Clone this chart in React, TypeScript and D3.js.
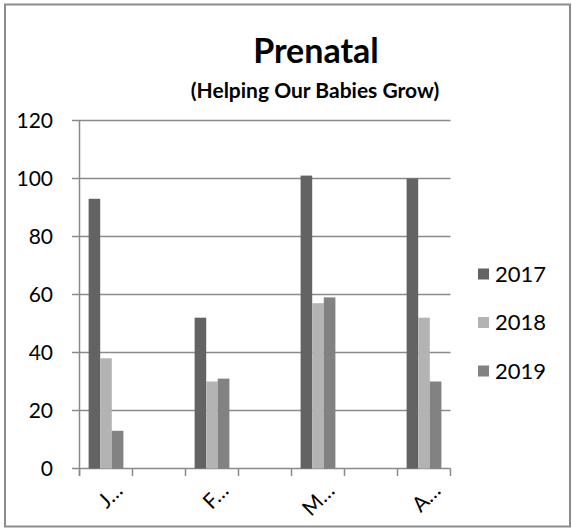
import React from "react";
import * as d3 from "d3";

const categories = ["J…", "", "F…", "", "M…", "", "A…"];
const seriesNames = ["2017", "2018", "2019"];
const values2017 = [93, null, 52, null, 101, null, 100];
const values2018 = [38, null, 30, null, 57, null, 52];
const values2019 = [13, null, 31, null, 59, null, 30];
const seriesColors = ["#636363", "#b3b3b3", "#828282"];
const yTicks = [0, 20, 40, 60, 80, 100, 120];
const titleText = "Prenatal";
const subtitleText = "(Helping Our Babies Grow)";

const W = 572;
const H = 529;
const FONT = "Lato, 'Open Sans', sans-serif";

export default function App() {
  const allSeries = [values2017, values2018, values2019];
  const x = d3.scaleBand<number>().domain(d3.range(categories.length)).range([79.5, 450.5]).padding(0);
  const y = d3.scaleLinear().domain([0, 120]).range([468.5, 120.5]);
  const bw = x.bandwidth();
  const barW = bw / (3 + 1.57);
  const groupW = barW * 3;
  const inner = d3.scaleBand<number>().domain([0, 1, 2]).range([(bw - groupW) / 2, (bw + groupW) / 2]).padding(0);
  const gridColor = "#8a8a8a";
  const boundaries = d3.range(categories.length + 1).map((i) => (i < categories.length ? (x(i) as number) : (x(i - 1) as number) + bw));

  return (
    <svg width={W} height={H} style={{ position: "absolute", left: 0, top: 0, background: "#fff" }}>
      <rect x={5} y={4.5} width={565} height={522} fill="#fff" stroke="#8c8c8c" strokeWidth={2} />
      <text x={316} y={63} textAnchor="middle" fontFamily={FONT} fontWeight={700} fontSize={34} fill="#000">
        {titleText}
      </text>
      <text x={315} y={98} textAnchor="middle" fontFamily={FONT} fontWeight={700} fontSize={21} fill="#000">
        {subtitleText}
      </text>
      {yTicks.map((t) => (
        <g key={t}>
          <line x1={72} x2={450.5} y1={y(t)} y2={y(t)} stroke={gridColor} strokeWidth={1.5} />
          <text x={53} y={y(t)} dy="0.35em" textAnchor="end" fontFamily={FONT} fontSize={21} fill="#000">
            {t}
          </text>
        </g>
      ))}
      <line x1={79.5} x2={79.5} y1={120.5} y2={476} stroke={gridColor} strokeWidth={1.5} />
      {boundaries.map((b, i) => (
        <line key={i} x1={b} x2={b} y1={468.5} y2={476} stroke={gridColor} strokeWidth={1.5} />
      ))}
      {allSeries.map((vals, si) =>
        vals.map((v, ci) =>
          v == null ? null : (
            <rect
              key={`${si}-${ci}`}
              x={(x(ci) as number) + (inner(si) as number)}
              y={y(v)}
              width={inner.bandwidth()}
              height={y(0) - y(v)}
              fill={seriesColors[si]}
            />
          )
        )
      )}
      {categories.map((c, ci) =>
        c ? (
          <text
            key={ci}
            transform={`translate(${(x(ci) as number) + bw / 2 + 18},${492}) rotate(-45)`}
            textAnchor="end"
            fontFamily={FONT}
            fontSize={21}
            fill="#000"
          >
            {c}
          </text>
        ) : null
      )}
      {seriesNames.map((s, i) => (
        <g key={s} transform={`translate(478,${274 + i * 48.5})`}>
          <rect x={0} y={-5.5} width={11} height={11} fill={seriesColors[i]} />
          <text x={17} y={0} dy="0.35em" fontFamily={FONT} fontSize={22} fill="#000">
            {s}
          </text>
        </g>
      ))}
    </svg>
  );
}
